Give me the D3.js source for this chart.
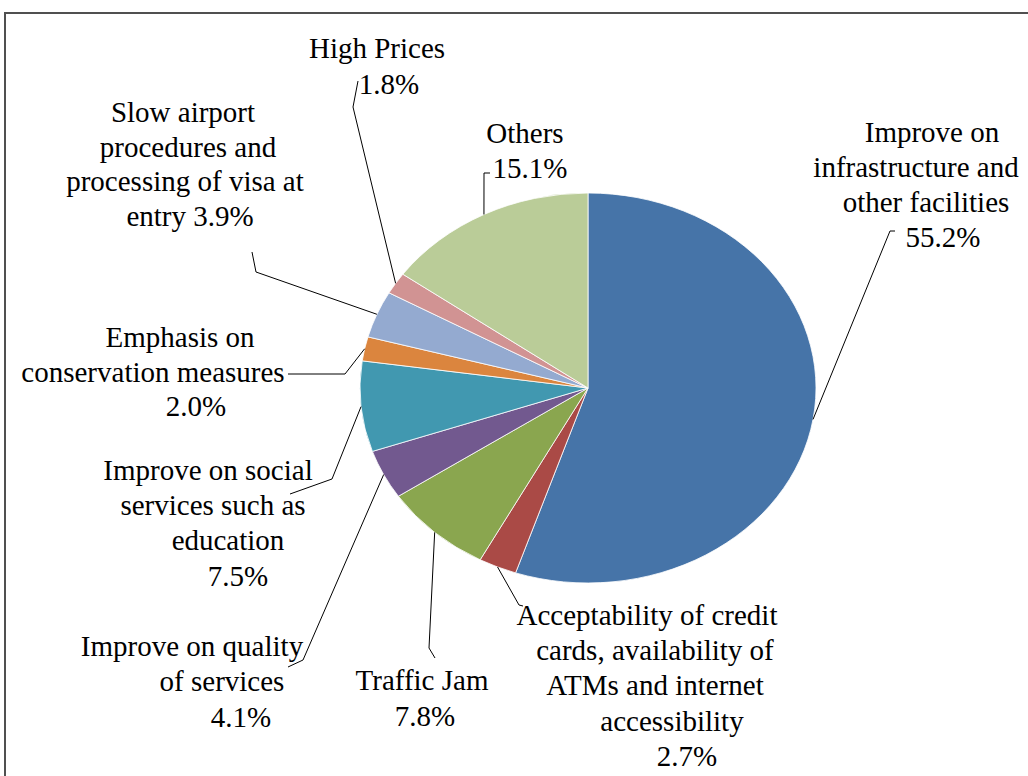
<!DOCTYPE html>
<html>
<head>
<meta charset="utf-8">
<script src="https://cdn.jsdelivr.net/npm/d3@7"></script>
<style>
  body { margin: 0; background: #fff; }
</style>
</head>
<body>
<div id="chart"></div>
<script>
// slices clockwise from 12 o'clock
var categories = [
  "Improve on infrastructure and other facilities",
  "Acceptability of credit cards, availability of ATMs and internet accessibility",
  "Traffic Jam",
  "Improve on quality of services",
  "Improve on social services such as education",
  "Emphasis on conservation measures",
  "Slow airport procedures and processing of visa at entry",
  "High Prices",
  "Others"
];
var values = [55.2, 2.7, 7.8, 4.1, 7.5, 2.0, 3.9, 1.8, 15.1];
var colors = ["#4674A8", "#AA4A46", "#8AA64F", "#72598F", "#4198B0", "#DB853E", "#94AAD0", "#D19393", "#BACC98"];

// wrapped label text, {p} = percentage
var labelLines = [
  ["Improve on", "infrastructure and", "other facilities", "{p}"],
  ["Acceptability of credit", "cards, availability of", "ATMs and internet", "accessibility", "{p}"],
  ["Traffic Jam", "{p}"],
  ["Improve on quality", "of services", "{p}"],
  ["Improve on social", "services such as", "education", "{p}"],
  ["Emphasis on", "conservation measures", "{p}"],
  ["Slow airport", "procedures and", "processing of visa at", "entry {p}"],
  ["High Prices", "{p}"],
  ["Others", "{p}"]
];

var width = 1028, height = 776;
var cx = 588, cy = 388;
var rx = 228, ry = 195;   // pie is stretched sideways

// label placement: line centres, baselines, leader elbow points (leader ends on the slice edge)
var labelLayout = [
  { xs: [932, 916, 926, 943], ys: [142, 177, 212, 247], leader: [[895, 231], [890, 231]] },
  { xs: [647, 655, 655, 672, 687], ys: [625, 660, 695, 731, 766], leader: [[523, 606], [519, 605]] },
  { xs: [422, 425], ys: [690, 726], leader: [[435, 658], [429, 648]] },
  { xs: [192, 222, 241], ys: [656, 691, 727], leader: [[288, 667], [303, 660]] },
  { xs: [208, 213, 228, 238], ys: [480, 515, 550, 586], leader: [[290, 494], [332, 479]] },
  { xs: [180, 153, 196], ys: [347, 382, 416], leader: [[288, 374], [345, 374]] },
  { xs: [183, 188, 185, 190], ys: [122, 157, 191, 226], leader: [[252, 252], [256, 272]] },
  { xs: [377, 389], ys: [58, 94], leader: [[358, 81], [353, 107]] },
  { xs: [525, 530], ys: [143, 178], leader: [[490, 173], [484, 173]] }
];

var svg = d3.select("#chart").append("svg")
    .attr("width", width)
    .attr("height", height);

// chart frame, runs off the right and bottom of the picture
svg.append("rect")
    .attr("x", 5).attr("y", 13)
    .attr("width", 1100).attr("height", 900)
    .attr("fill", "none")
    .attr("stroke", "#505050")
    .attr("stroke-width", 2);

var data = categories.map(function (c, i) {
  return { name: c, value: values[i], color: colors[i], lines: labelLines[i], layout: labelLayout[i] };
});

var pie = d3.pie()
    .sort(null)
    .value(function (d) { return d.value; });

var arcs = pie(data);

var arc = d3.arc()
    .innerRadius(0)
    .outerRadius(ry);

var sx = d3.scaleLinear().domain([-1, 1]).range([cx - rx, cx + rx]);
var sy = d3.scaleLinear().domain([-1, 1]).range([cy - ry, cy + ry]);

var g = svg.append("g")
    .attr("transform", "translate(" + cx + "," + cy + ") scale(" + (rx / ry) + ",1)");

g.selectAll("path")
    .data(arcs)
    .enter()
    .append("path")
    .attr("d", arc)
    .attr("fill", function (d) { return d.data.color; })
    .attr("stroke", "#fff")
    .attr("stroke-width", 0.8)
    .attr("vector-effect", "non-scaling-stroke");

// leader lines
var line = d3.line();
svg.selectAll(".leader")
    .data(arcs)
    .enter()
    .append("path")
    .attr("class", "leader")
    .attr("fill", "none")
    .attr("stroke", "#000")
    .attr("stroke-width", 1)
    .attr("d", function (d) {
      var mid = (d.startAngle + d.endAngle) / 2;
      var end = [sx(Math.sin(mid)), sy(-Math.cos(mid))];
      return line(d.data.layout.leader.concat([end]));
    });

// labels
var labels = svg.selectAll(".label")
    .data(arcs)
    .enter()
    .append("text")
    .attr("class", "label")
    .style("font-family", "'Liberation Serif'")
    .style("font-size", "29px")
    .attr("fill", "#000")
    .attr("text-anchor", "middle");

labels.each(function (d) {
  var self = d3.select(this);
  var pct = d.data.value.toFixed(1) + "%";
  d.data.lines.forEach(function (t, i) {
    self.append("tspan")
        .attr("x", d.data.layout.xs[i])
        .attr("y", d.data.layout.ys[i])
        .text(t.replace("{p}", pct));
  });
});
</script>
</body>
</html>
